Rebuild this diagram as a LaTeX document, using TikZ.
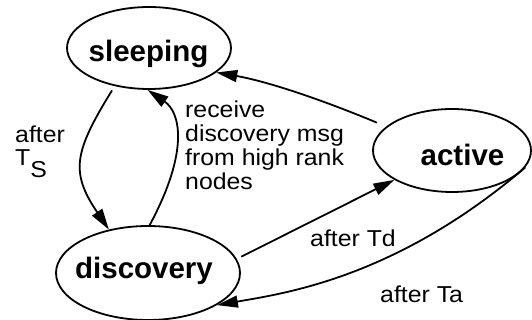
\documentclass[tikz,border=0pt]{standalone}
\usepackage{fontspec}
\setmainfont{Liberation Sans}
\newfontfamily\lblfont{Liberation Sans}[FakeStretch=1.08]
\usetikzlibrary{arrows.meta,shapes.geometric}
\tikzset{
  state/.style={draw, ellipse, line width=1.8pt, inner sep=0pt},
  statetext/.style={anchor=base, inner sep=0pt, font=\fontsize{29.5pt}{34pt}\selectfont\bfseries},
  lbl/.style={anchor=base west, inner sep=0pt, font=\lblfont\fontsize{23pt}{22pt}\selectfont},
  edge/.style={draw, line width=1.8pt, -{Triangle[length=21pt,width=12pt]}},
}
\begin{document}
\begin{tikzpicture}[x=1pt,y=-1pt]
\useasboundingbox (0,0) rectangle (532,320);
% states
\node[state, minimum width=164pt, minimum height=82pt] (sl) at (149,48) {};
\node[state, minimum width=184pt, minimum height=94pt] (di) at (148,273) {};
\node[state, minimum width=158pt, minimum height=83pt] (ac) at (452,150.5) {};
\node[statetext] (slt) at (148.5,62) {sleeping};
\node[statetext] (dit) at (144,278) {discovery};
\node[statetext] (act) at (462.5,166) {active};
% edges
\draw[edge, shorten <=5pt] (sl.228) .. controls (74,152) and (70,172) .. (di.132);
\draw[edge] (di.88) .. controls (190,150) and (180,112) .. (sl.268);
\draw[edge, shorten <=10pt] (ac.160) .. controls (330,103) and (271,82) .. (sl.340);
\draw[edge, shorten <=5pt] (di.9) -- (ac.207);
\draw[edge] (ac.347) .. controls (397,277) and (287,293) .. (di.335);
% labels
\node[lbl] (l1) at (15,143) {\begin{tabular}[t]{@{}l@{}}after\\T\raisebox{-12pt}{S}\end{tabular}};
\node[lbl, font=\lblfont\fontsize{23pt}{23.5pt}\selectfont] (l2) at (185,118) {\begin{tabular}[t]{@{}l@{}}receive\\discovery msg\\from high rank\\nodes\end{tabular}};
\node[lbl] (l3) at (310,247) {after Td};
\node[lbl] (l4) at (380,302) {after Ta};
\end{tikzpicture}
\end{document}
